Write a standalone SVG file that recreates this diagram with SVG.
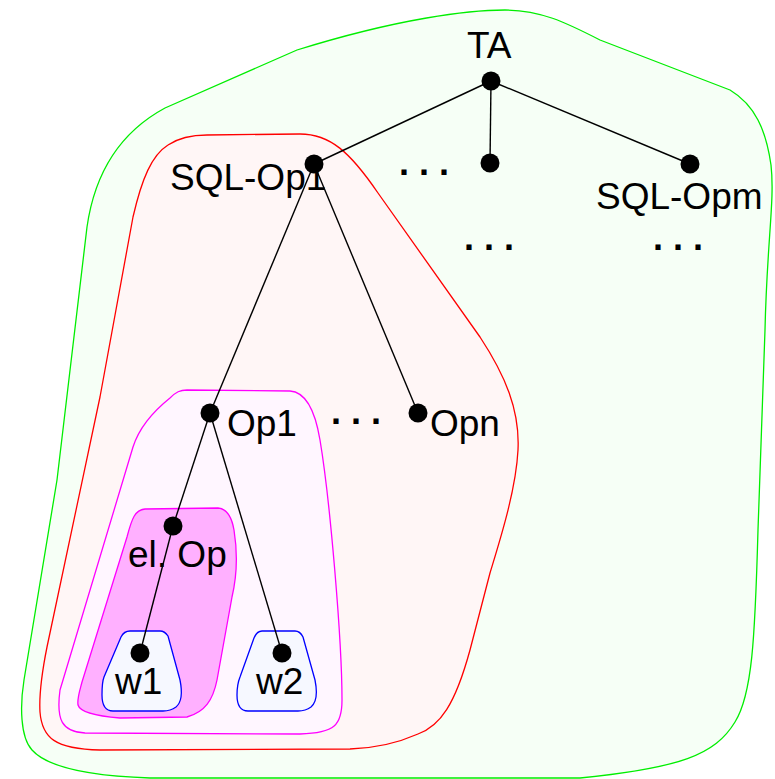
<svg xmlns="http://www.w3.org/2000/svg" width="775" height="779" viewBox="0 0 775 779">
<style>
.region{stroke-width:1.3;stroke-linejoin:round}
.lbl{font-family:"Liberation Sans",Arial,sans-serif;font-size:37px;fill:#000}
.ell{font-family:"Liberation Sans",Arial,sans-serif;font-size:36px;font-weight:bold;fill:#000}
.edge{stroke:#000;stroke-width:1.4;fill:none}
.dot{fill:#000}
</style>
<rect width="775" height="779" fill="#fff"/>
<g id="region-TA">
<path class="region" fill="#f6fff6" stroke="#00ee00" d="M 505 10 C 540 10 565 22 600 40 L 730 90 C 755 105 766 130 771 165 C 775 200 767 240 765 330 L 758 530 C 755 640 752 695 735 722 C 715 755 680 768 580 778 L 150 778 C 90 776 48 768 32 750 C 20 737 20 705 24 680 L 57 480 L 87 227 C 94 178 115 135 165 108 L 297 50 C 400 18 470 10 505 10 Z"/>
</g>
<g id="region-SQL-Op1">
<path class="region" fill="#fff6f6" stroke="#ff0000" d="M 207 135 L 300 134 C 330 134 350 152 378 193 L 480 337 C 505 375 520 410 518 450 C 516 490 500 540 490 573 L 470 650 C 455 705 440 726 418 734 C 400 742 380 748 350 749 L 100 750 C 55 749 42 738 40 712 C 39 695 42 672 47 647 L 100 397 L 133 217 C 142 178 152 155 168 145 C 180 137 192 135 207 135 Z"/>
</g>
<g id="region-Op1">
<path class="region" fill="#fff6ff" stroke="#ff00ff" d="M 187 390 L 290 391 C 306 392 315 410 320 440 C 330 500 342 640 342 700 C 342 725 335 733 300 734 L 85 733 C 62 732 56 720 60 690 L 133 447 C 140 425 155 410 170 398 C 176 392 180 390 187 390 Z"/>
</g>
<g id="region-elOp">
<path class="region" fill="#ffb0ff" stroke="#ff00ff" d="M 145 509 L 218 508 C 228 509 232 518 234 530 C 238 555 236 580 232 597 L 217 680 C 213 700 205 712 187 717 L 120 718 C 95 716 80 712 78 705 C 77 698 80 690 82 682 L 127 537 C 132 518 135 510 145 509 Z"/>
</g>
<g id="region-w1">
<path class="region" fill="#f6f8ff" stroke="#0000ff" d="M 130 631 L 160 631 C 164 631 166 633 168 636 L 180 680 C 182 690 182 702 176 707 C 172 710 168 711 163 711 L 113 711 C 105 711 102 705 102 695 C 102 688 102 682 104 677 L 121 637 C 123 633 126 631 130 631 Z"/>
</g>
<g id="region-w2">
<path class="region" fill="#f6f8ff" stroke="#0000ff" d="M 262 631 L 295 631 C 299 631 301 633 303 637 L 315 680 C 317 690 317 702 311 707 C 307 710 303 711 298 711 L 248 711 C 240 711 237 705 237 695 C 237 688 238 682 240 677 L 254 638 C 256 633 258 631 262 631 Z"/>
</g>
<g id="labels">
<text class="lbl" x="467" y="58">TA</text>
<text class="lbl" x="170" y="190">SQL-Op1</text>
<text class="lbl" x="596" y="209">SQL-Opm</text>
<text class="lbl" x="227" y="436">Op1</text>
<text class="lbl" x="430" y="436">Opn</text>
<text class="lbl" x="128" y="567">el. Op</text>
<text class="lbl" x="115" y="694">w1</text>
<text class="lbl" x="256" y="694">w2</text>
<text class="ell" x="399" y="175">. . .</text>
<text class="ell" x="464" y="250">. . .</text>
<text class="ell" x="653" y="250">. . .</text>
<text class="ell" x="331" y="424">. . .</text>
</g>
<g id="connectors">
<line class="edge" x1="491" y1="81" x2="314" y2="164"/>
<line class="edge" x1="491" y1="81" x2="490" y2="163"/>
<line class="edge" x1="491" y1="81" x2="690" y2="164"/>
<line class="edge" x1="314" y1="164" x2="210" y2="413"/>
<line class="edge" x1="314" y1="164" x2="418" y2="413"/>
<line class="edge" x1="210" y1="413" x2="173" y2="526"/>
<line class="edge" x1="173" y1="526" x2="140" y2="653"/>
<line class="edge" x1="210" y1="413" x2="282" y2="653"/>
</g>
<g id="node-TA"><circle class="dot" cx="491" cy="81" r="9.5"/></g>
<g id="node-SQL-Op1"><circle class="dot" cx="314" cy="164" r="9.5"/></g>
<g id="node-mid"><circle class="dot" cx="490" cy="163" r="9.5"/></g>
<g id="node-SQL-Opm"><circle class="dot" cx="690" cy="164" r="9.5"/></g>
<g id="node-Op1"><circle class="dot" cx="210" cy="413" r="9.5"/></g>
<g id="node-Opn"><circle class="dot" cx="418" cy="413" r="9.5"/></g>
<g id="node-elOp"><circle class="dot" cx="173" cy="526" r="9.5"/></g>
<g id="node-w1"><circle class="dot" cx="140" cy="653" r="9.5"/></g>
<g id="node-w2"><circle class="dot" cx="282" cy="653" r="9.5"/></g>
</svg>
